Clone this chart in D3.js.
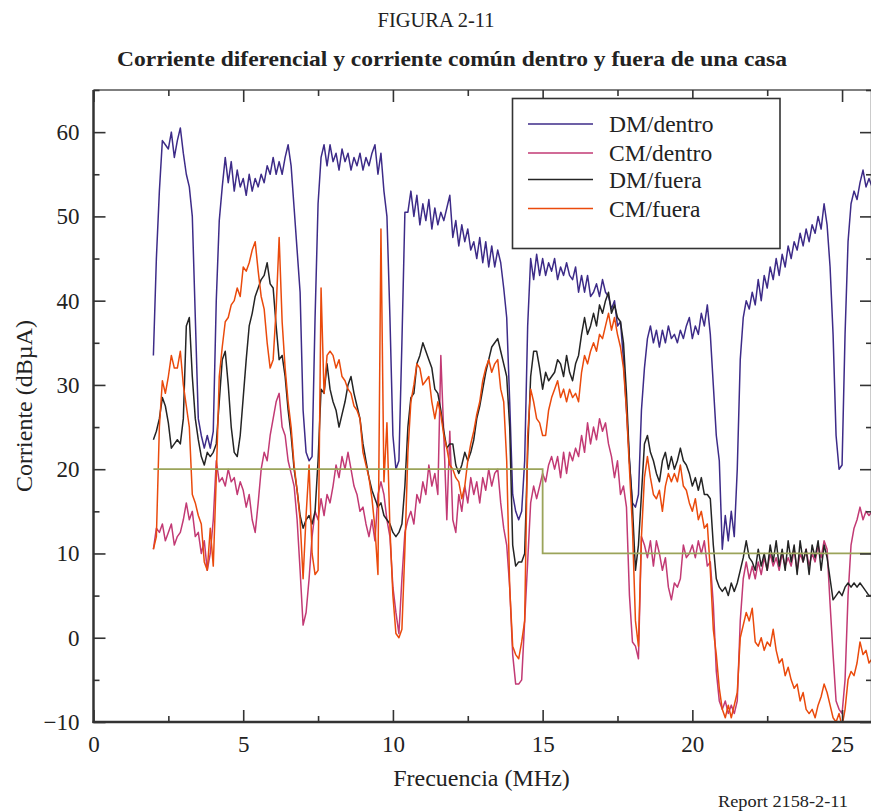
<!DOCTYPE html>
<html>
<head>
<meta charset="utf-8">
<script src="https://cdn.jsdelivr.net/npm/d3@7"></script>
<style>
  html, body { margin: 0; padding: 0; background: #fff; }
  svg { display: block; }
  text { font-family: "Liberation Serif", "Times New Roman", serif; fill: #222; }
</style>
</head>
<body>
<svg id="chart" width="871" height="812"></svg>
<script>
// Frequency grid (MHz): samples every 0.1 MHz from 2.0 to 26.0
const freqStart = 2.0;
const freqStep = 0.1;

// DM/dentro (dBµA)
const dmDentro = [
  33.5, 45, 53, 59, 58.5, 58, 60, 57, 59, 60.5,
  57.5, 55, 53.5, 50, 38, 26, 24, 22.5, 24, 22.5,
  24.5, 40, 49.5, 53.5, 57, 54, 56.5, 53, 55.5, 53.5,
  54.5, 52.5, 55, 53, 54.5, 53.5, 55, 54, 56, 55,
  57, 55, 56.5, 55, 57, 58.5, 56, 51, 46, 41,
  27, 22, 21, 21.5, 38, 51.5, 57, 58.5, 56, 58.5,
  56.5, 57.5, 55.5, 58, 56.5, 57.5, 55.5, 57, 56, 57.5,
  55.5, 57, 56, 57.5, 58.5, 55, 57.5, 53, 50, 38,
  24, 20, 21, 35, 50.5, 50.5, 53, 50, 52.5, 49,
  51.5, 49.5, 52, 48.5, 51, 49, 50.5, 49.5, 51, 52.5,
  47.5, 49.5, 46.5, 49, 47, 48.5, 46, 47, 45, 47.5,
  44.5, 47, 44, 46.5, 44, 46, 44.5, 41.5, 38, 28,
  17, 15, 14, 15, 21, 37, 45, 42.5, 45.5, 43,
  45, 43, 44.5, 43.5, 45, 42.5, 44, 43, 44.5, 43,
  42.5, 44, 41, 43, 41, 43, 40.5, 41, 42, 40.5,
  42.5, 41, 40.5, 39, 40, 37, 37.5, 33, 27, 21,
  16, 15.5, 17, 27, 32, 35.5, 37, 35, 36.5, 34.5,
  36.5, 35, 37, 35.5, 36, 35, 36.5, 35.5, 37, 38,
  35.5, 37, 36, 38.5, 37, 39.5, 36, 30, 24, 21,
  10.5, 14.5, 11.5, 15, 12, 20, 33, 38, 40, 39,
  41, 39.5, 42.5, 40, 43, 41.5, 44, 42.5, 45, 43,
  45.5, 44, 46.5, 45, 47, 46, 48, 46.5, 48.5, 47,
  49, 48, 50, 48.5, 51.5, 49, 44, 36, 24, 20,
  20.5, 36, 47, 51.5, 53, 52, 54, 55.5, 53.5, 54.5,
  53.5
];

// CM/dentro (dBµA)
const cmDentro = [
  10.5, 13, 12.5, 13.5, 11.5, 12.5, 13.5, 11, 12, 12.5,
  14, 16, 14, 15, 12, 12.5, 10, 11.5, 8, 10,
  14, 21, 18.5, 19, 18, 20, 18.5, 19, 17, 18.5,
  17.5, 15.5, 17, 14, 12.5, 16, 20, 22, 21, 24,
  26, 28, 29, 25, 24, 21, 19.5, 18, 14, 8,
  1.5, 3, 7, 12, 15, 14, 16.5, 14.5, 17, 16,
  18, 20.5, 19, 21.5, 20, 22, 20, 18, 17, 15,
  15.5, 13.5, 12, 14, 11.5, 17, 18.5, 17, 14, 12,
  6, 3, 0.5, 7, 12.5, 14, 15, 13.5, 17, 16,
  18.5, 17, 20.5, 18, 19.5, 17, 33.5, 24, 14, 24.5,
  14, 12.5, 17, 15, 18, 16, 19, 17, 18.5, 16,
  19, 17.5, 20, 18, 19.5, 20, 16, 13, 11, 6,
  -2, -5.5, -5.5, -5, 2, 9, 16, 18, 16.5, 18,
  19.5, 18.5, 20.5, 21.5, 20, 21.5, 19, 22, 19.5, 22,
  21, 22.5, 21.5, 24, 22, 25.5, 23, 25, 23.5, 26,
  24.5, 25.5, 23, 21.5, 19, 21, 17, 18, 15.5, 5,
  -0.5, -1, -2.5, 12, 11, 9.5, 11.5, 8.5, 11.5, 10,
  8, 9.5, 6, 4.5, 6.5, 6, 7, 11, 9.5, 10,
  11, 9.5, 11.5, 10, 11.5, 8.5, 9, 4, -4, -7.5,
  -8.5, -7.5, -9, -8, -9, -7.5, 2, 7, 9, 7,
  8.5, 7, 9, 7.5, 9.5, 8, 10, 8.5, 9.5, 8,
  10, 8.5, 9.5, 8.5, 10.5, 8, 10, 9, 10.5, 8.5,
  10, 9, 11, 9.5, 11.5, 10.5, 4, -2, -7.5, -8.5,
  -9, -5, 5, 11, 13, 14, 15.5, 14, 15, 14.5,
  15
];

// DM/fuera (dBµA)
const dmFuera = [
  23.5, 24.5, 26, 28.5, 27.5, 25.5, 22.5, 23, 23.5, 23,
  26, 37, 38, 31, 26, 23.5, 21.5, 20.5, 22, 21.5,
  22, 23, 28, 33, 34, 30, 25, 22, 21.5, 24,
  28.5, 33, 37, 38.5, 40.5, 41.5, 42.5, 43, 44.5, 42,
  41.5, 37, 33, 33.5, 31, 27, 24, 20, 17.5, 14.5,
  13, 14, 14.5, 13.5, 15, 21, 29.5, 29, 32.5, 29.5,
  28, 27, 25, 26.5, 28, 30, 31, 29, 27.5, 26,
  23, 21, 19, 17.5, 16.5, 15.5, 16, 14.5, 14, 13.5,
  12.5, 12, 12.5, 13.5, 18, 25, 28.5, 29, 32.5, 33.5,
  35, 34, 33, 32, 29.5, 29, 27, 24.5, 22.5, 23,
  23, 20.5, 19.5, 20.5, 22, 21, 22, 23.5, 26, 27.5,
  29.5, 31.5, 33, 34.5, 35, 35.5, 34, 32.5, 31, 25,
  11, 8.5, 9, 9, 10, 22, 31, 34, 34, 32,
  29.5, 31.5, 30.5, 31, 31.5, 33, 32.5, 31, 33.5, 31.5,
  30.5, 32.5, 33.5, 36, 38, 36, 37, 38.5, 37, 39.5,
  38.5, 40, 41, 38.5, 39.5, 38, 37.5, 35, 29, 21,
  15.5, 8, 11, 17, 23, 24, 22, 21, 19.5, 18.5,
  21, 22, 20, 21.5, 20, 21, 22.5, 21, 20.5, 19.5,
  18, 19, 17.5, 19, 17, 17, 16.5, 11, 7, 6,
  5.5, 6, 5, 6.5, 5.5, 6.5, 8, 9.5, 11.5, 9.5,
  9, 8, 10.5, 8.5, 10, 8, 11, 9, 11.5, 8.5,
  10.5, 8, 11.5, 9, 11, 7.5, 11.5, 9, 10.5, 7.5,
  11, 9.5, 11.5, 8, 11, 9.5, 7, 4.5, 5, 5.5,
  5, 6, 6.5, 6, 6.5, 6, 6.5, 6, 5.5, 5,
  5
];

// CM/fuera (dBµA)
const cmFuera = [
  10.5, 12, 25, 30.5, 29, 31, 33.5, 32, 32, 34,
  30, 27.5, 25, 17, 16, 14.5, 13.5, 9, 8, 13,
  8.5, 19, 31, 34.5, 37.5, 38, 39.5, 40, 41.5, 40.5,
  44, 43.5, 44.5, 46, 47, 43.5, 40.5, 39, 35, 32,
  33, 39, 47.5, 37.5, 32, 28, 25, 20.5, 17.5, 14,
  7, 14.5, 20.5, 10, 7.5, 8, 41.5, 29, 33.5, 34,
  33.5, 32, 33, 31, 30.5, 29.5, 29, 27.5, 27, 26,
  22, 20.5, 19, 16.5, 13, 7.5, 48.5, 18.5, 25.5, 13,
  5, 0.5, 0, 1, 10.5, 22, 28, 30, 32.5, 32,
  30, 30.5, 31, 28, 26, 28, 26.5, 24, 22.5, 20.5,
  20, 19, 18.5, 16.5, 18, 21, 23, 24.5, 26.5, 28,
  30.5, 32, 33, 31.5, 32.5, 33, 29.5, 28, 21, 6,
  -1, -2, -2.5, -0.5, 2, 24, 29.5, 28, 26, 25.5,
  24, 24, 27, 28.5, 29.5, 30.5, 28.5, 29.5, 28, 29.5,
  28.5, 29, 28, 31.5, 33.5, 32.5, 34, 35, 34, 36,
  35.5, 37, 38.5, 36.5, 38, 36, 34.5, 32, 27, 20,
  13, 2, -1, 12, 19, 21.5, 19, 17, 16.5, 17.5,
  15, 18, 19.5, 18.5, 19.5, 18.5, 20.5, 18, 17.5, 16,
  15, 16.5, 14, 15, 13, 13.5, 8, 1, -2, -6,
  -8.5, -9.5, -8, -9.5, -8, -6.5, 0, 1.5, 3, 2,
  3.5, -0.5, -1, 0, -1.5, -0.5, -1, 1, -1.5, -3,
  -2.5, -4.5, -3.5, -5, -6, -5.5, -7.5, -6.5, -8.5, -9,
  -8.5, -9.5, -8, -7, -5.5, -6.5, -8, -9.5, -10, -9,
  -10.5, -8.5, -5, -4, -4.5, -3, -0.5, -2, -1.5, -3,
  -2.5
];

// Reference level: 20 dBµA up to 15 MHz, 10 dBµA above
const limitFreq = [2, 15, 15, 26];
const limitLevel = [20, 20, 10, 10];

const seriesNames = ["DM/dentro", "CM/dentro", "DM/fuera", "CM/fuera"];
const seriesColors = ["#3d2b88", "#c23a74", "#242424", "#ea4a0c"];
const seriesValues = [dmDentro, cmDentro, dmFuera, cmFuera];

const xTicks = [0, 5, 10, 15, 20, 25];
const xMinorTicks = [2.5, 7.5, 12.5, 17.5, 22.5];
const yTicks = [-10, 0, 10, 20, 30, 40, 50, 60];
const yMinorTicks = [-5, 5, 15, 25, 35, 45, 55, 65];

const svg = d3.select("#chart");
const plot = { left: 93.5, right: 872, top: 90, bottom: 722 };

const x = d3.scaleLinear().domain([0, 26]).range([plot.left, plot.right]);
const y = d3.scaleLinear().domain([-10, 65]).range([plot.bottom, plot.top]);

// Titles
svg.append("text").attr("x", 436).attr("y", 27).attr("text-anchor", "middle")
  .style("font-size", "20px").attr("textLength", 117).attr("lengthAdjust", "spacingAndGlyphs")
  .text("FIGURA 2-11");
svg.append("text").attr("x", 452).attr("y", 66).attr("text-anchor", "middle")
  .style("font-size", "21px").style("font-weight", "bold")
  .attr("textLength", 670).attr("lengthAdjust", "spacingAndGlyphs")
  .text("Corriente diferencial y corriente común dentro y fuera de una casa");

svg.append("defs").append("clipPath").attr("id", "plotClip")
  .append("rect").attr("x", plot.left).attr("y", plot.top)
  .attr("width", plot.right - plot.left).attr("height", plot.bottom - plot.top);

const g = svg.append("g");

// Data lines
const line = d3.line()
  .x((d, i) => x(freqStart + i * freqStep))
  .y(d => y(d));

const lines = g.append("g").attr("clip-path", "url(#plotClip)");
seriesValues.forEach((vals, k) => {
  lines.append("path").datum(vals)
    .attr("fill", "none")
    .attr("stroke", seriesColors[k])
    .attr("stroke-width", 1.5)
    .attr("stroke-linejoin", "round")
    .attr("d", line);
});

const limitData = limitFreq.map((f, i) => [f, limitLevel[i]]);
lines.append("path").datum(limitData)
  .attr("fill", "none").attr("stroke", "#9ba45a").attr("stroke-width", 1.8)
  .attr("d", d3.line().x(d => x(d[0])).y(d => y(d[1])));

// Frame
const frameColor = "#333";
g.append("line").attr("x1", plot.left).attr("x2", plot.right)
  .attr("y1", plot.top).attr("y2", plot.top)
  .attr("stroke", "#555").attr("stroke-width", 1.5);
g.append("line").attr("x1", plot.left).attr("x2", plot.left)
  .attr("y1", plot.top).attr("y2", plot.bottom + 1)
  .attr("stroke", frameColor).attr("stroke-width", 2.5);
g.append("line").attr("x1", plot.left - 1).attr("x2", plot.right)
  .attr("y1", plot.bottom).attr("y2", plot.bottom)
  .attr("stroke", frameColor).attr("stroke-width", 2.5);
g.append("line").attr("x1", plot.right - 0.5).attr("x2", plot.right - 0.5)
  .attr("y1", plot.top).attr("y2", plot.bottom)
  .attr("stroke", frameColor).attr("stroke-width", 1.5);

// Inward ticks via d3 axes
const tickMajor = 12, tickMinor = 6;
function styleAxis(sel) {
  sel.select(".domain").remove();
  sel.selectAll("line").attr("stroke", frameColor).attr("stroke-width", 1.6);
}

// bottom
g.append("g").attr("transform", `translate(0,${plot.bottom})`)
  .call(d3.axisBottom(x).tickValues(xTicks).tickSize(-tickMajor).tickPadding(14).tickFormat(d3.format("d")))
  .call(styleAxis)
  .call(s => s.selectAll("text").style("font-size", "23px").attr("fill", "#222")
    .style("font-family", "'Liberation Serif', serif").attr("dy", "0.71em"));
g.append("g").attr("transform", `translate(0,${plot.bottom})`)
  .call(d3.axisBottom(x).tickValues(xMinorTicks).tickSize(-tickMinor).tickFormat(""))
  .call(styleAxis);
// top
g.append("g").attr("transform", `translate(0,${plot.top})`)
  .call(d3.axisTop(x).tickValues(xTicks).tickSize(-tickMajor).tickFormat(""))
  .call(styleAxis);
g.append("g").attr("transform", `translate(0,${plot.top})`)
  .call(d3.axisTop(x).tickValues(xMinorTicks).tickSize(-tickMinor).tickFormat(""))
  .call(styleAxis);
// left
const fmtY = d => d < 0 ? "\u2212" + Math.abs(d) : String(d);
g.append("g").attr("transform", `translate(${plot.left},0)`)
  .call(d3.axisLeft(y).tickValues(yTicks).tickSize(-tickMajor).tickPadding(14).tickFormat(fmtY))
  .call(styleAxis)
  .call(s => s.selectAll("text").style("font-size", "23px").attr("fill", "#222")
    .style("font-family", "'Liberation Serif', serif"));
g.append("g").attr("transform", `translate(${plot.left},0)`)
  .call(d3.axisLeft(y).tickValues(yMinorTicks).tickSize(-tickMinor).tickFormat(""))
  .call(styleAxis);
// right
g.append("g").attr("transform", `translate(${plot.right},0)`)
  .call(d3.axisRight(y).tickValues(yTicks).tickSize(-tickMajor).tickFormat(""))
  .call(styleAxis);
g.append("g").attr("transform", `translate(${plot.right},0)`)
  .call(d3.axisRight(y).tickValues(yMinorTicks).tickSize(-tickMinor).tickFormat(""))
  .call(styleAxis);

// Axis titles
svg.append("text").attr("x", 481.5).attr("y", 786).attr("text-anchor", "middle")
  .style("font-size", "24px").text("Frecuencia (MHz)");
svg.append("text").attr("transform", `translate(32,${(plot.top + plot.bottom) / 2}) rotate(-90)`)
  .attr("text-anchor", "middle").style("font-size", "24px").text("Corriente (dBµA)");

svg.append("text").attr("x", 718).attr("y", 807)
  .style("font-size", "16px").attr("textLength", 130).attr("lengthAdjust", "spacingAndGlyphs")
  .text("Report 2158-2-11");

// Legend
const legend = svg.append("g");
legend.append("rect").attr("x", 512.5).attr("y", 98.5).attr("width", 267.5).attr("height", 150)
  .attr("fill", "#fff").attr("stroke", "#333").attr("stroke-width", 1.6);
const legendRows = [124, 153, 179.5, 208.5];
seriesNames.forEach((name, k) => {
  legend.append("line").attr("x1", 528).attr("x2", 593)
    .attr("y1", legendRows[k]).attr("y2", legendRows[k])
    .attr("stroke", seriesColors[k]).attr("stroke-width", 1.5);
  legend.append("text").attr("x", 609).attr("y", legendRows[k] + 8)
    .style("font-size", "23.5px").text(name);
});
</script>
</body>
</html>
